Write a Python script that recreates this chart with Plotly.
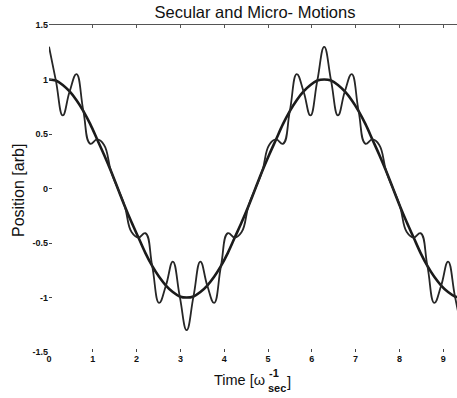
import plotly.graph_objects as go

# Time samples (units of 1/omega_sec), every pi/20
t_vals = [
    0.000, 0.157, 0.314, 0.471, 0.628, 0.785, 0.942, 1.100, 1.257, 1.414,
    1.571, 1.728, 1.885, 2.042, 2.199, 2.356, 2.513, 2.670, 2.827, 2.985,
    3.142, 3.299, 3.456, 3.613, 3.770, 3.927, 4.084, 4.241, 4.398, 4.555,
    4.712, 4.869, 5.027, 5.184, 5.341, 5.498, 5.655, 5.812, 5.969, 6.126,
    6.283, 6.440, 6.597, 6.754, 6.912, 7.069, 7.226, 7.383, 7.540, 7.697,
    7.854, 8.011, 8.168, 8.325, 8.482, 8.639, 8.796, 8.954, 9.111, 9.268,
    9.425,
]

# Slow (secular) motion
secular = [
    1.00, 0.99, 0.95, 0.89, 0.81, 0.71, 0.59, 0.45, 0.31, 0.16,
    0.00, -0.16, -0.31, -0.45, -0.59, -0.71, -0.81, -0.89, -0.95, -0.99,
    -1.00, -0.99, -0.95, -0.89, -0.81, -0.71, -0.59, -0.45, -0.31, -0.16,
    0.00, 0.16, 0.31, 0.45, 0.59, 0.71, 0.81, 0.89, 0.95, 0.99,
    1.00, 0.99, 0.95, 0.89, 0.81, 0.71, 0.59, 0.45, 0.31, 0.16,
    0.00, -0.16, -0.31, -0.45, -0.59, -0.71, -0.81, -0.89, -0.95, -0.99,
    -1.00,
]

# Secular motion with the fast micromotion riding on it
micro = [
    1.30, 0.99, 0.67, 0.89, 1.05, 0.71, 0.41, 0.45, 0.40, 0.16,
    0.00, -0.16, -0.40, -0.45, -0.41, -0.71, -1.05, -0.89, -0.67, -0.99,
    -1.30, -0.99, -0.67, -0.89, -1.05, -0.71, -0.41, -0.45, -0.40, -0.16,
    0.00, 0.16, 0.40, 0.45, 0.41, 0.71, 1.05, 0.89, 0.67, 0.99,
    1.30, 0.99, 0.67, 0.89, 1.05, 0.71, 0.41, 0.45, 0.40, 0.16,
    0.00, -0.16, -0.40, -0.45, -0.41, -0.71, -1.05, -0.89, -0.67, -0.99,
    -1.30,
]

x_ticks = [0, 1, 2, 3, 4, 5, 6, 7, 8, 9]
y_ticks = [-1.5, -1, -0.5, 0, 0.5, 1, 1.5]
y_tick_text = ["-1.5", "-1", "-0.5", "0", "0.5", "1", "1.5"]

FONT = "Liberation Sans, Arial, sans-serif"
INK = "#1a1a1a"
TXT = "#111111"

# Plot-area geometry in pixels, used to place the hand-built axis titles
W, H = 457, 398
L, R, T, B = 49, 0, 25, 46
PW, PH = W - L - R, H - T - B


def px_x(px):
    return (px - L) / PW


def px_y(py):
    return (H - B - py) / PH


fig = go.Figure()
fig.add_trace(go.Scatter(
    x=t_vals, y=micro, mode="lines", xaxis="x2",
    line=dict(color="#262626", width=1.8, shape="spline", smoothing=1.3),
    showlegend=False, hoverinfo="skip",
))
fig.add_trace(go.Scatter(
    x=t_vals, y=secular, mode="lines",
    line=dict(color=INK, width=2.6, shape="spline", smoothing=1.0),
    showlegend=False, hoverinfo="skip",
))

# Axis titles: the x title carries a stacked super/subscript
ann = [
    dict(text="Position [arb]", textangle=-90, x=px_x(18), y=px_y(191),
         font=dict(family=FONT, size=16, color=TXT)),
    dict(text="Time [ω", x=px_x(267), y=px_y(380), xanchor="right",
         font=dict(family=FONT, size=14.5, color=TXT)),
    dict(text="-1", x=px_x(267), y=px_y(373), xanchor="left",
         font=dict(family=FONT, size=11, color=TXT, weight="bold")),
    dict(text="sec", x=px_x(266), y=px_y(388), xanchor="left",
         font=dict(family=FONT, size=11, color=TXT, weight="bold")),
    dict(text="]", x=px_x(285), y=px_y(381), xanchor="left",
         font=dict(family=FONT, size=15, color=TXT)),
]
for a in ann:
    a.update(xref="paper", yref="paper", showarrow=False,
             yanchor="middle", xanchor=a.get("xanchor", "center"))

fig.update_layout(
    width=W, height=H,
    margin=dict(l=L, r=R, t=T, b=B),
    paper_bgcolor="white", plot_bgcolor="white",
    title=dict(text="Secular and Micro- Motions", x=255 / W, xanchor="center",
               y=1 - 12 / H, yanchor="middle",
               font=dict(family=FONT, size=16.5, color=TXT)),
    annotations=ann,
    xaxis=dict(
        range=[0, 9.315], tickmode="array", tickvals=x_ticks,
        ticks="inside", ticklen=3, tickcolor="#444", showline=False,
        showgrid=False, zeroline=False,
        tickfont=dict(family=FONT, size=9, color=TXT, weight="bold"),
    ),
    xaxis2=dict(
        overlaying="x", matches="x", side="top", range=[0, 9.315],
        tickmode="array", tickvals=x_ticks, ticks="inside", ticklen=3,
        tickcolor="#555", showline=True, linecolor="#555", linewidth=1,
        showticklabels=False, showgrid=False, zeroline=False,
    ),
    yaxis=dict(
        range=[-1.5, 1.5], tickmode="array", tickvals=y_ticks,
        ticktext=y_tick_text, ticks="inside", ticklen=3, tickcolor="#444",
        showline=False, showgrid=False, zeroline=False,
        tickfont=dict(family=FONT, size=9, color=TXT, weight="bold"),
    ),
)

fig.write_html("out.html")
